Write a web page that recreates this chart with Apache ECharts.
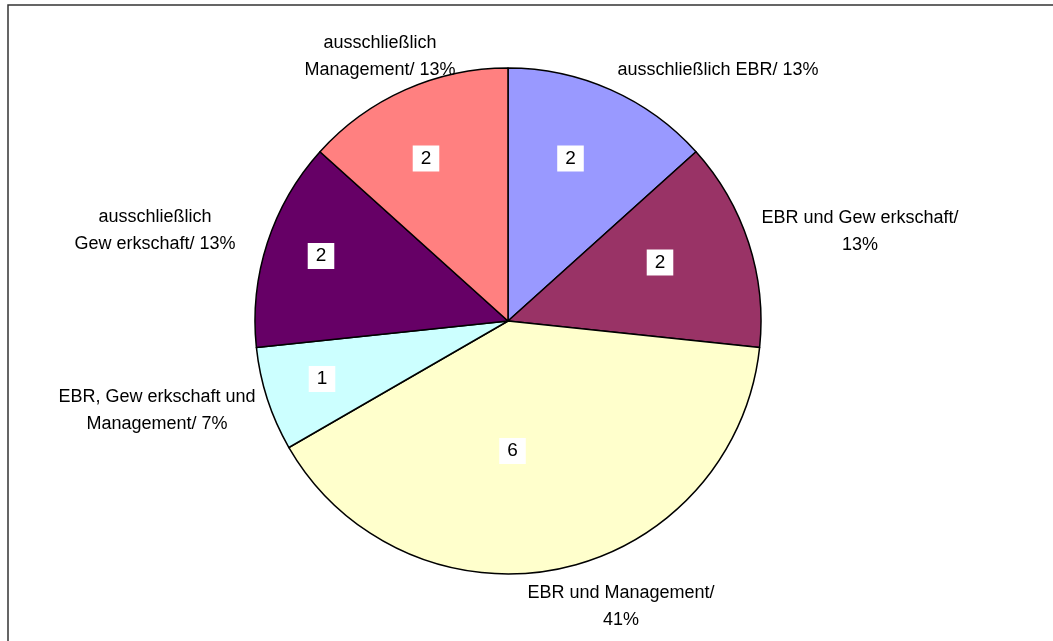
<!DOCTYPE html>
<html>
<head>
<meta charset="utf-8">
<script src="https://cdn.jsdelivr.net/npm/echarts@6/dist/echarts.min.js"></script>
<style>
html,body{margin:0;padding:0;background:#fff;}
#chart{width:1053px;height:641px;}
</style>
</head>
<body>
<div id="chart"></div>
<script>
// ---- data ----
const categories = [
  'ausschließlich EBR',
  'EBR und Gew erkschaft',
  'EBR und Management',
  'EBR, Gew erkschaft und\nManagement',
  'ausschließlich\nGew erkschaft',
  'ausschließlich\nManagement'
];
const values = [2, 2, 6, 1, 2, 2];
const percentLabels = ['13%', '13%', '41%', '7%', '13%', '13%'];
const percentSeparators = ['/ ', '/\n', '/\n', '/ ', '/ ', '/ '];
const colors = ['#9999FF', '#993366', '#FFFFCC', '#CCFFFF', '#660066', '#FF8080'];

// ---- layout (label offsets from pie centre) ----
const pieCenter = [508, 321];
const outerOffsets = [[210,-251],[352,-89],[113,286],[-351,90],[-353,-90],[-128,-264]];
const innerOffsets = [[62.5,-162.5],[152,-58.5],[4.5,130],[-186,58],[-187,-65],[-82,-162.5]];

const data = categories.map((c, i) => ({
  name: c, value: values[i], itemStyle: { color: colors[i] }
}));

const chart = echarts.init(document.getElementById('chart'), null, { renderer: 'canvas' });
chart.setOption({
  animation: false,
  backgroundColor: '#fff',
  graphic: [{
    type: 'rect', shape: { x: 8, y: 5, width: 1100, height: 700 },
    style: { fill: 'none', stroke: '#333', lineWidth: 1.5 }, z: -1
  }],
  series: [
    {
      type: 'pie',
      center: pieCenter,
      radius: 253,
      startAngle: 90,
      clockwise: true,
      silent: true,
      avoidLabelOverlap: false,
      data: data,
      itemStyle: { borderColor: '#000', borderWidth: 1.5 },
      label: {
        show: true, position: 'inside',
        formatter: p => String(p.value),
        fontFamily: 'Liberation Sans, Arial, sans-serif',
        fontSize: 19, color: '#000',
        backgroundColor: '#fff', padding: [4, 8, 3, 8]
      },
      labelLine: { show: false },
      labelLayout: p => ({
        x: pieCenter[0] + innerOffsets[p.dataIndex][0],
        y: pieCenter[1] + innerOffsets[p.dataIndex][1],
        align: 'center', verticalAlign: 'middle'
      }),
      emphasis: { disabled: true }
    },
    {
      type: 'pie',
      center: pieCenter,
      radius: 253,
      startAngle: 90,
      clockwise: true,
      silent: true,
      avoidLabelOverlap: false,
      data: data.map(d => ({ name: d.name, value: d.value })),
      itemStyle: { color: 'rgba(0,0,0,0)', borderWidth: 0 },
      label: {
        show: true, position: 'outside',
        formatter: p => p.name + percentSeparators[p.dataIndex] + percentLabels[p.dataIndex],
        fontFamily: 'Liberation Sans, Arial, sans-serif',
        fontSize: 18, lineHeight: 27, color: '#000', align: 'center'
      },
      labelLine: { show: false },
      labelLayout: p => ({
        x: pieCenter[0] + outerOffsets[p.dataIndex][0],
        y: pieCenter[1] + outerOffsets[p.dataIndex][1],
        align: 'center', verticalAlign: 'middle'
      }),
      emphasis: { disabled: true }
    }
  ]
});
</script>
</body>
</html>
